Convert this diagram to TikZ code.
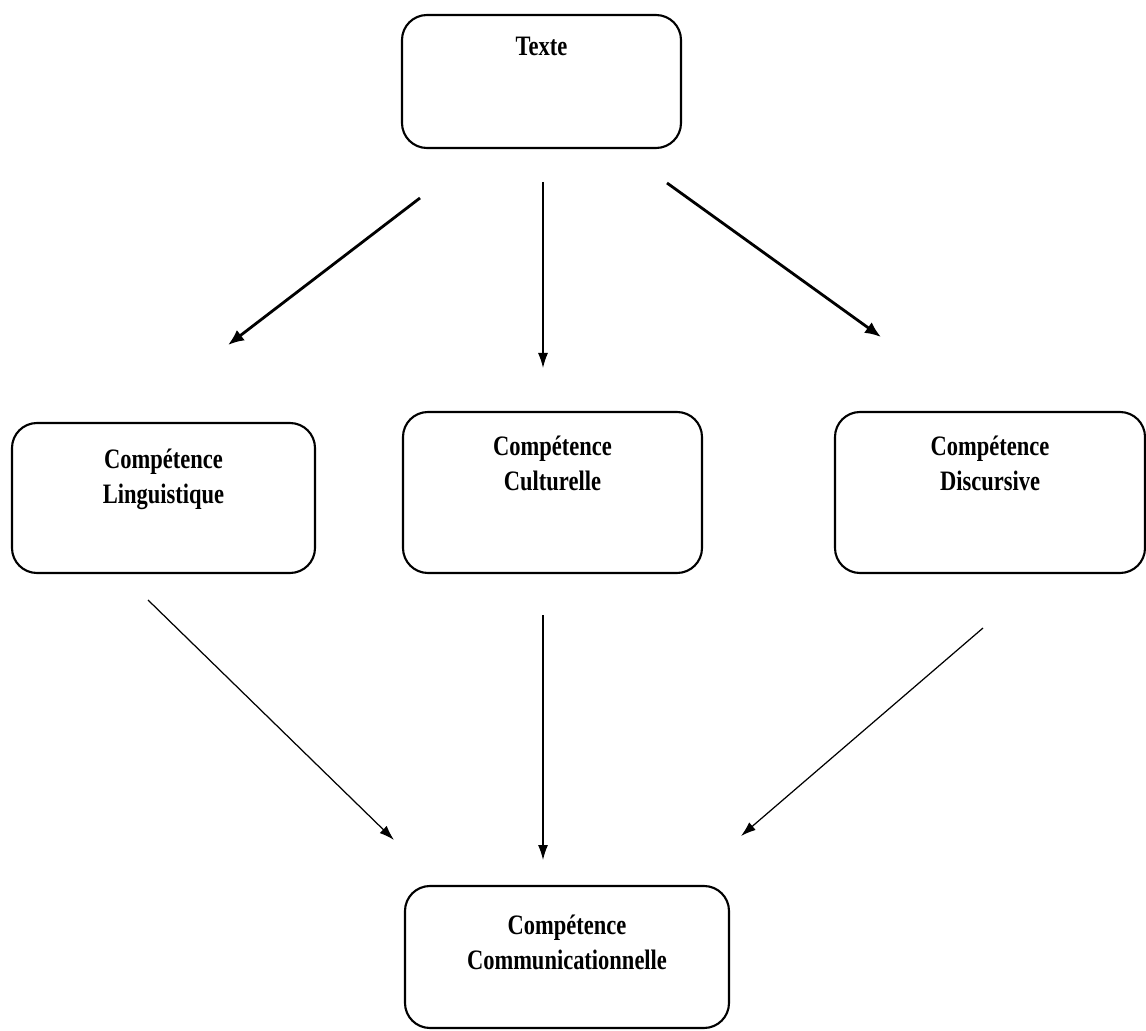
\documentclass[tikz,border=0pt]{standalone}
\usepackage{fontspec}
\setmainfont{Liberation Serif}[FakeStretch=0.8]
\usetikzlibrary{calc,arrows.meta}

\begin{document}
\begin{tikzpicture}[
	boite/.style={draw, rounded corners=0.5cm, line width=1.2pt},
	titre/.style={anchor=north, align=center, inner sep=0pt, font=\fontsize{16}{20}\selectfont\bfseries},
	grosse/.style={-{Latex[length=3.2mm,width=2.6mm]}, line width=1.6pt},
	fine/.style={-{Latex[length=3mm,width=2mm]}, line width=0.7pt}]
	\useasboundingbox (0,0) rectangle (22.92,20.6);
	
	% Draw the boxes
	\foreach \nom/\x/\y/\w/\h in {texte/10.83/18.97/5.58/2.66, ling/3.27/10.64/6.06/3.0,
		cult/11.05/10.75/5.98/3.22, disc/19.8/10.75/6.2/3.22, comm/11.34/1.46/6.48/2.84}
	\node[boite, minimum width=\w cm, minimum height=\h cm] (\nom) at (\x,\y) {};
	
	% Label the boxes
	\node[titre] (texte-t) at ($(texte.north)+(0,-0.46)$) {Texte};
	\node[titre] (ling-t) at ($(ling.north)+(0,-0.54)$) {Compétence\\Linguistique};
	\node[titre] (cult-t) at ($(cult.north)+(0,-0.5)$) {Compétence\\Culturelle};
	\node[titre] (disc-t) at ($(disc.north)+(0,-0.5)$) {Compétence\\Discursive};
	\node[titre] (comm-t) at ($(comm.north)+(0,-0.6)$) {Compétence\\Communicationnelle};
	
	% Ends of the arrows
	\coordinate (h1) at (8.4,16.64);   \coordinate (h1') at (4.56,13.7);
	\coordinate (h2) at (10.86,16.96); \coordinate (h2') at (10.86,13.24);
	\coordinate (h3) at (13.34,16.94); \coordinate (h3') at (17.62,13.86);
	\coordinate (b1) at (2.96,8.6);    \coordinate (b1') at (7.88,3.8);
	\coordinate (b2) at (10.86,8.3);   \coordinate (b2') at (10.86,3.4);
	\coordinate (b3) at (19.66,8.04);  \coordinate (b3') at (14.82,3.88);
	
	% Draw the arrows
	\draw[grosse] (h1) -- (h1');
	\draw[fine] (h2) -- (h2');
	\draw[grosse] (h3) -- (h3');
	\foreach \i in {1,2,3}
	\draw[fine] (b\i) -- (b\i');
\end{tikzpicture}
\end{document}
